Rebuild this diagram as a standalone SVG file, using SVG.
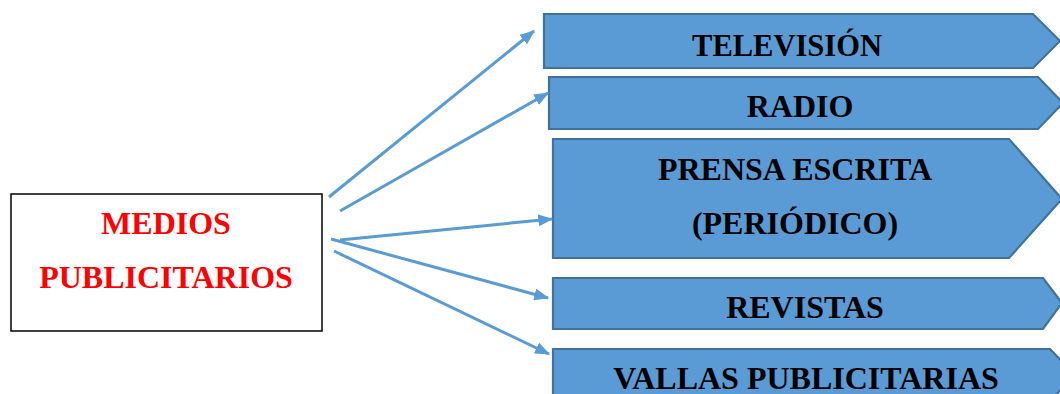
<svg xmlns="http://www.w3.org/2000/svg" width="1060" height="394" viewBox="0 0 1060 394">
<style>
.shape{fill:#5B9BD5;stroke:#41719C;stroke-width:2.2}
.lbl{font-family:"Liberation Serif","Times New Roman",serif;font-weight:bold;font-size:32px;fill:#000;text-anchor:middle}
.red{fill:#FF0000}
.conn{stroke:#5B9BD5;stroke-width:3;fill:none;marker-end:url(#ah)}
</style>
<defs>
<marker id="ah" markerWidth="5" markerHeight="4" refX="4.6" refY="2" orient="auto" markerUnits="strokeWidth">
<path d="M0,0 L5,2 L0,4 Z" fill="#5B9BD5"/>
</marker>
</defs>
<rect width="1060" height="394" fill="#fff"/>
<g id="medios">
<rect x="11" y="194" width="311" height="137" fill="#fff" stroke="#000" stroke-width="1.5"/>
<text class="lbl red" x="166" y="234">MEDIOS</text>
<text class="lbl red" x="166" y="288">PUBLICITARIOS</text>
</g>
<g id="television">
<path class="shape" d="M544,14 H1033 L1060,41 L1033,68 H544 Z"/>
<text class="lbl" x="787" y="56" style="font-size:30.5px">TELEVISIÓN</text>
</g>
<g id="radio">
<path class="shape" d="M549,77 H1038 L1063,103 L1038,129 H549 Z"/>
<text class="lbl" x="800" y="117">RADIO</text>
</g>
<g id="prensa">
<path class="shape" d="M553,139 H1009 L1062,199 L1009,258 H553 Z"/>
<text class="lbl" x="795" y="180">PRENSA ESCRITA</text>
<text class="lbl" x="795" y="234">(PERIÓDICO)</text>
</g>
<g id="revistas">
<path class="shape" d="M553,278 H1043 L1062,303 L1043,329 H553 Z"/>
<text class="lbl" x="805" y="318">REVISTAS</text>
</g>
<g id="vallas">
<path class="shape" d="M553,349 H1050 L1075,375 L1050,401 H553 Z"/>
<text class="lbl" x="806" y="389">VALLAS PUBLICITARIAS</text>
</g>
<g id="connectors">
<line class="conn" x1="329" y1="197" x2="534" y2="31"/>
<line class="conn" x1="340" y1="211" x2="548" y2="93"/>
<line class="conn" x1="340" y1="240" x2="552" y2="219"/>
<line class="conn" x1="331" y1="239" x2="548" y2="298"/>
<line class="conn" x1="334" y1="251" x2="549" y2="354"/>
</g>
</svg>
